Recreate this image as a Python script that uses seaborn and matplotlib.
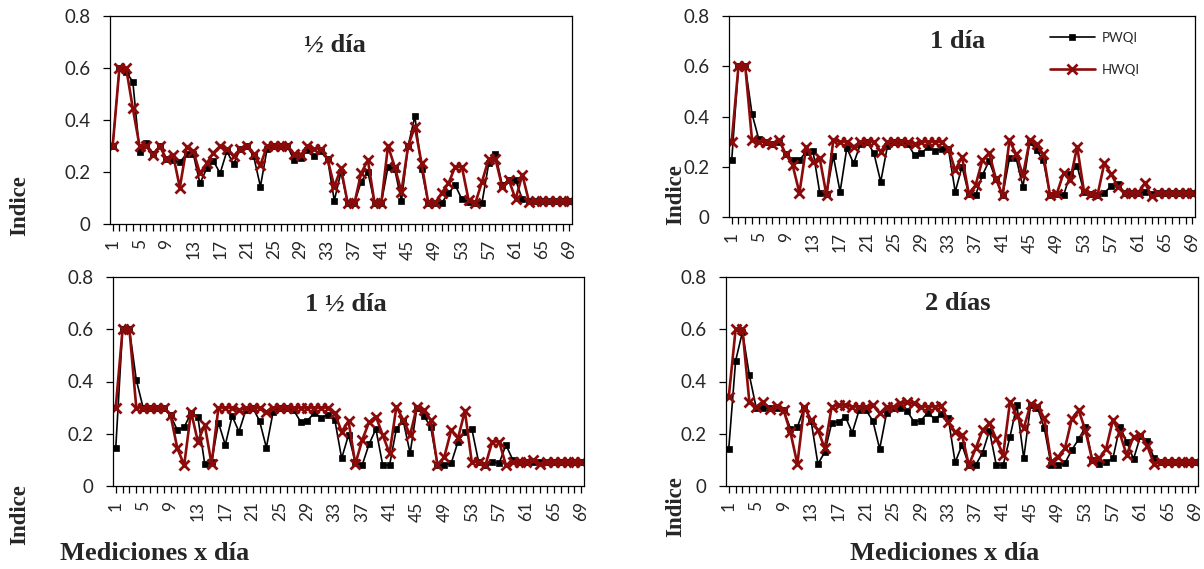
import matplotlib
matplotlib.use("Agg")
import matplotlib.pyplot as plt
from matplotlib.ticker import FixedLocator, MultipleLocator
import seaborn as sns
import numpy as np

# ---------------- data ----------------
x_pos = list(range(1, 70))
tick_labels = [str(v) for v in range(1, 70, 4)]
series_names = ["PWQI", "HWQI"]
panel_titles = ["½ día", "1 día", "1 ½ día", "2 días"]

pwqi_half = [0.30, 0.60, 0.585, 0.547, 0.278, 0.31, 0.27, 0.30, 0.25, 0.246,
             0.237, 0.27, 0.27, 0.156, 0.214, 0.242, 0.195, 0.28, 0.23, 0.29,
             0.30, 0.26, 0.144, 0.29, 0.30, 0.30, 0.30, 0.246, 0.253, 0.285,
             0.26, 0.28, 0.25, 0.09, 0.20, 0.08, 0.08, 0.163, 0.20, 0.08,
             0.08, 0.22, 0.21, 0.088, 0.30, 0.415, 0.21, 0.08, 0.08, 0.082,
             0.118, 0.15, 0.095, 0.085, 0.08, 0.082, 0.233, 0.27, 0.15, 0.17,
             0.17, 0.095, 0.09, 0.09, 0.09, 0.09, 0.09, 0.09, 0.09]
hwqi_half = [0.30, 0.60, 0.60, 0.445, 0.30, 0.30, 0.265, 0.30, 0.25, 0.265,
             0.14, 0.295, 0.28, 0.195, 0.233, 0.274, 0.30, 0.29, 0.26, 0.29,
             0.30, 0.27, 0.227, 0.30, 0.30, 0.30, 0.30, 0.27, 0.265, 0.30,
             0.29, 0.29, 0.25, 0.144, 0.214, 0.08, 0.08, 0.195, 0.246, 0.08,
             0.08, 0.30, 0.22, 0.124, 0.30, 0.374, 0.233, 0.08, 0.08, 0.12,
             0.156, 0.22, 0.22, 0.092, 0.08, 0.163, 0.25, 0.25, 0.144, 0.17,
             0.095, 0.19, 0.086, 0.09, 0.09, 0.09, 0.09, 0.09, 0.09]

pwqi_1 = [0.226, 0.60, 0.60, 0.41, 0.31, 0.30, 0.29, 0.30, 0.25, 0.226,
          0.226, 0.26, 0.263, 0.096, 0.09, 0.243, 0.10, 0.275, 0.213, 0.29,
          0.30, 0.253, 0.14, 0.283, 0.30, 0.30, 0.29, 0.246, 0.253, 0.28,
          0.263, 0.27, 0.27, 0.10, 0.20, 0.09, 0.086, 0.166, 0.223, 0.15,
          0.086, 0.233, 0.233, 0.12, 0.30, 0.266, 0.226, 0.086, 0.09, 0.086,
          0.173, 0.203, 0.10, 0.09, 0.086, 0.096, 0.122, 0.133, 0.096, 0.096,
          0.096, 0.10, 0.09, 0.096, 0.096, 0.096, 0.096, 0.096, 0.096]
hwqi_1 = [0.30, 0.60, 0.60, 0.305, 0.30, 0.30, 0.29, 0.305, 0.25, 0.206,
          0.096, 0.28, 0.22, 0.233, 0.086, 0.305, 0.30, 0.30, 0.28, 0.30,
          0.30, 0.30, 0.26, 0.30, 0.30, 0.30, 0.30, 0.29, 0.30, 0.30,
          0.30, 0.30, 0.272, 0.186, 0.24, 0.093, 0.126, 0.226, 0.255, 0.153,
          0.086, 0.305, 0.25, 0.166, 0.305, 0.29, 0.25, 0.086, 0.093, 0.175,
          0.149, 0.28, 0.104, 0.09, 0.086, 0.213, 0.173, 0.12, 0.096, 0.096,
          0.096, 0.136, 0.082, 0.096, 0.096, 0.096, 0.096, 0.096, 0.096]

pwqi_15 = [0.144, 0.60, 0.60, 0.406, 0.30, 0.30, 0.30, 0.30, 0.27, 0.214,
           0.225, 0.28, 0.263, 0.084, 0.09, 0.243, 0.157, 0.268, 0.208, 0.29,
           0.30, 0.25, 0.147, 0.285, 0.30, 0.30, 0.29, 0.246, 0.25, 0.28,
           0.262, 0.272, 0.253, 0.106, 0.195, 0.09, 0.08, 0.16, 0.218, 0.08,
           0.08, 0.22, 0.25, 0.125, 0.30, 0.268, 0.227, 0.08, 0.08, 0.087,
           0.17, 0.208, 0.22, 0.093, 0.08, 0.093, 0.087, 0.157, 0.10, 0.093,
           0.093, 0.093, 0.093, 0.093, 0.093, 0.093, 0.093, 0.093, 0.093]
hwqi_15 = [0.30, 0.60, 0.60, 0.30, 0.30, 0.30, 0.30, 0.30, 0.272, 0.144,
           0.08, 0.285, 0.17, 0.234, 0.084, 0.30, 0.30, 0.30, 0.29, 0.30,
           0.30, 0.30, 0.285, 0.30, 0.30, 0.30, 0.30, 0.30, 0.30, 0.30,
           0.30, 0.30, 0.278, 0.208, 0.249, 0.084, 0.176, 0.244, 0.266, 0.195,
           0.125, 0.304, 0.253, 0.195, 0.304, 0.291, 0.253, 0.08, 0.112, 0.214,
           0.183, 0.287, 0.093, 0.093, 0.08, 0.17, 0.17, 0.08, 0.093, 0.093,
           0.093, 0.10, 0.084, 0.093, 0.093, 0.093, 0.093, 0.093, 0.093]

pwqi_2 = [0.142, 0.479, 0.59, 0.425, 0.30, 0.30, 0.30, 0.30, 0.29, 0.22,
          0.225, 0.30, 0.25, 0.084, 0.13, 0.24, 0.246, 0.265, 0.204, 0.29,
          0.29, 0.25, 0.142, 0.278, 0.30, 0.30, 0.287, 0.246, 0.25, 0.28,
          0.257, 0.274, 0.26, 0.09, 0.157, 0.08, 0.08, 0.128, 0.212, 0.08,
          0.08, 0.189, 0.31, 0.106, 0.31, 0.30, 0.221, 0.08, 0.08, 0.087,
          0.138, 0.179, 0.227, 0.10, 0.084, 0.09, 0.106, 0.227, 0.17, 0.103,
          0.19, 0.174, 0.106, 0.093, 0.093, 0.093, 0.093, 0.093, 0.093]
hwqi_2 = [0.34, 0.60, 0.60, 0.323, 0.304, 0.32, 0.295, 0.308, 0.29, 0.205,
          0.084, 0.304, 0.253, 0.214, 0.144, 0.304, 0.31, 0.31, 0.304, 0.304,
          0.304, 0.31, 0.278, 0.304, 0.304, 0.316, 0.32, 0.316, 0.304, 0.304,
          0.304, 0.308, 0.244, 0.208, 0.195, 0.08, 0.144, 0.214, 0.24, 0.18,
          0.119, 0.323, 0.268, 0.221, 0.313, 0.308, 0.259, 0.093, 0.112, 0.144,
          0.257, 0.291, 0.212, 0.097, 0.106, 0.142, 0.253, 0.202, 0.119, 0.189,
          0.195, 0.154, 0.084, 0.093, 0.093, 0.093, 0.093, 0.093, 0.093]

y_ticks = [0, 0.2, 0.4, 0.6, 0.8]
y_tick_labels = ["0", "0.2", "0.4", "0.6", "0.8"]

# ---------------- style ----------------
sns.set_theme(style="white")
plt.rcParams["font.family"] = ["Lato", "DejaVu Sans"]

W, H = 1204, 569
fig = plt.figure(figsize=(W / 100, H / 100), dpi=100)


def rect(l, r, t, b):
    return [l / W, 1 - b / H, (r - l) / W, (b - t) / H]


boxes = [(110, 572, 16, 224), (729, 1195, 16, 217),
         (113, 584, 277, 486), (726, 1198, 277, 486)]
pw_all = [pwqi_half, pwqi_1, pwqi_15, pwqi_2]
hw_all = [hwqi_half, hwqi_1, hwqi_15, hwqi_2]
title_pos = [(0.487, 0.86), (0.49, 0.875), (0.495, 0.87), (0.49, 0.875)]

RED = "#8B0A0A"
serif = ["Liberation Serif", "DejaVu Serif"]

axes = []
for i, box in enumerate(boxes):
    ax = fig.add_axes(rect(*box))
    axes.append(ax)
    sns.lineplot(x=x_pos, y=pw_all[i], ax=ax, color="black", linewidth=1.2,
                 marker="s", markersize=3.8, markeredgewidth=0.5,
                 markeredgecolor="black", markerfacecolor="black",
                 label=series_names[0])
    sns.lineplot(x=x_pos, y=hw_all[i], ax=ax, color=RED, linewidth=1.9,
                 marker="x", markersize=7.5, markeredgewidth=2.0,
                 markeredgecolor=RED, markerfacecolor=RED,
                 label=series_names[1])
    ax.set_xlim(0.6, 69.4)
    ax.set_ylim(0, 0.8)
    ax.xaxis.set_major_locator(FixedLocator(list(range(1, 70, 4))))
    ax.xaxis.set_minor_locator(MultipleLocator(1))
    ax.set_xticklabels(tick_labels, rotation=90, fontsize=12.5)
    ax.set_yticks(y_ticks)
    ax.set_yticklabels(y_tick_labels, fontsize=13.5)
    ax.tick_params(axis="x", which="both", direction="out", length=5,
                   width=0.9, color="black", bottom=True, pad=6)
    ax.tick_params(axis="y", which="major", direction="out", length=5,
                   width=0.9, color="black", left=True, pad=9)
    for s in ax.spines.values():
        s.set_visible(True)
        s.set_color("black")
        s.set_linewidth(0.9)
    ax.set_xlabel("")
    ax.set_ylabel("")
    ax.text(title_pos[i][0], title_pos[i][1], panel_titles[i],
            transform=ax.transAxes, ha="center", va="center",
            fontsize=19, fontweight="bold", family=serif)
    if i == 1:
        handles, labels = ax.get_legend_handles_labels()
        ax.legend(handles, labels, loc="upper left",
                  bbox_to_anchor=(1050 / W, 1 - 32 / H),
                  bbox_transform=fig.transFigure, frameon=False,
                  fontsize=9.5, handlelength=3.4, handletextpad=0.5,
                  labelspacing=1.5, borderpad=0, borderaxespad=0)
    else:
        leg = ax.get_legend()
        if leg is not None:
            leg.remove()

# y labels
for (xc, yc) in [(20, 206), (676, 195), (20, 515), (676, 507)]:
    fig.text(xc / W, 1 - yc / H, "Indice", rotation=90, ha="center",
             va="center", fontsize=16.5, fontweight="bold", family=serif)

# x labels
for xc in [155, 945]:
    fig.text(xc / W, 1 - 553 / H, "Mediciones x día", ha="center",
             va="center", fontsize=19, fontweight="bold", family=serif)

fig.savefig("out.png", dpi=100)
